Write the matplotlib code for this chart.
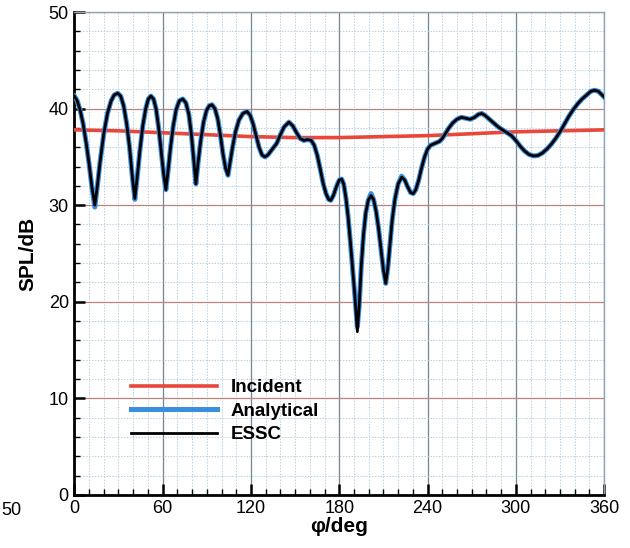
import numpy as np
import matplotlib.pyplot as plt
from matplotlib.ticker import MultipleLocator

plt.rcParams['font.family'] = ['Liberation Sans', 'DejaVu Sans']

# ESSC curve
phi_essc = [0, 2, 4, 6, 8, 10, 12, 13.9,
            15.5, 17.5, 20, 22.5, 25, 27, 29.4, 31.5, 33.5, 35.5, 37.5, 39.5, 41.1,
            42.5, 44.5, 46.5, 48.5, 50.3, 52, 53.8, 55.5, 57.3, 59, 60.7, 62.2,
            63.5, 65.3, 67.2, 69.2, 71.3, 73.6, 75.8, 77.8, 79.5, 81.2, 82.6,
            84, 85.8, 87.8, 89.8, 91.7, 93.5, 95.5, 97.5, 99.3, 101, 102.8, 104.4,
            105.8, 107.5, 109.5, 111.8, 114.5, 117.3, 119.5, 121.5, 123.5, 125.5, 127.5,
            129.5, 131.5, 134, 137.5, 140, 142.5, 145.8, 148.5, 151, 153.5, 156, 158.5,
            161, 163, 165, 167, 169, 171, 172.8, 174.2, 176, 178, 180, 181.6, 183,
            184.5, 186, 187.5, 189, 190.5, 192.3, 193.5, 195, 196.5, 198, 199.7, 201.6,
            203.3, 205, 206.7, 208.3, 210, 211.6, 213, 214.5, 216, 217.8, 220, 222.4,
            224.5, 226.5, 228.5, 230.3, 232, 234, 236, 238, 240, 242, 245, 248, 250,
            252, 254.5, 257, 260, 263, 266, 269, 272, 274.5, 276.8, 279, 282, 285, 288,
            291, 294, 297, 300, 303, 306, 309, 312, 315, 318, 321, 324, 327, 330, 333,
            336, 339, 342, 345, 348, 351, 353.5, 356, 358, 360]
spl_essc = [41.3, 40.8, 39.8, 38.4, 36.5, 34.3, 31.8, 30.0,
            31.8, 34.5, 37.4, 39.5, 40.8, 41.4, 41.6, 41.3, 40.3, 38.5, 36.0, 32.8, 30.7,
            32.6, 35.6, 38.2, 40.0, 41.0, 41.3, 41.0, 40.0, 38.0, 35.6, 33.2, 31.6,
            33.3, 35.9, 38.2, 39.9, 40.8, 41.0, 40.6, 39.4, 37.4, 34.5, 32.2,
            34.3, 36.6, 38.6, 39.8, 40.3, 40.4, 40.0, 38.9, 37.2, 35.3, 33.8, 33.1,
            34.4, 36.0, 37.6, 38.8, 39.5, 39.7, 39.3, 38.4, 37.2, 36.0, 35.2,
            35.0, 35.2, 35.7, 36.4, 37.3, 38.1, 38.6, 38.2, 37.5, 36.9, 36.7, 36.8,
            36.7, 36.2, 35.2, 33.8, 32.3, 31.2, 30.6, 30.5, 31.0, 31.9, 32.6, 32.7, 32.2,
            30.8, 28.8, 26.3, 23.6, 20.8, 16.9, 19.5, 23.8, 27.0, 29.2, 30.5, 31.0,
            30.6, 29.4, 27.6, 25.5, 23.3, 21.9, 23.5, 26.0, 28.5, 30.6, 32.2, 32.9,
            32.6, 31.9, 31.3, 31.2, 31.6, 32.6, 33.9, 35.0, 35.8, 36.2, 36.4, 36.6, 36.9,
            37.4, 38.0, 38.5, 38.9, 39.1, 39.0, 38.9, 39.1, 39.4, 39.5, 39.3, 38.9, 38.5, 38.1,
            37.8, 37.5, 37.2, 36.7, 36.1, 35.6, 35.25, 35.1, 35.15, 35.4, 35.8, 36.3, 36.9, 37.6, 38.4,
            39.2, 39.9, 40.5, 41.0, 41.4, 41.8, 41.9, 41.8, 41.5, 41.2]

# Analytical solution: same trace, slightly different depth at a few dips
phi_ana = phi_essc
spl_ana = list(spl_essc)
ana_dips = {13.9: 29.8, 41.1: 30.6, 192.3: 17.4, 201.6: 31.2, 222.4: 33.0}
for p, v in ana_dips.items():
    spl_ana[phi_ana.index(p)] = v

# Incident field
phi_inc = [0, 30, 60, 90, 120, 150, 180, 210, 240, 270, 300, 330, 360]
spl_inc = [37.8, 37.7, 37.5, 37.3, 37.1, 37.0, 37.0, 37.1, 37.2, 37.4, 37.6, 37.7, 37.8]

fig = plt.figure(figsize=(6.30, 5.48), dpi=100)
ax = fig.add_axes([0.118, 0.097, 0.841, 0.881])

ax.plot(phi_inc, spl_inc, color="#e8473a", lw=2.6, label="Incident", zorder=3)
ax.plot(phi_ana, spl_ana, color="#3a8ee0", lw=3.6, label="Analytical", zorder=4,
        solid_joinstyle="round")
ax.plot(phi_essc, spl_essc, color="black", lw=2.0, label="ESSC", zorder=5,
        solid_joinstyle="round")

ax.set_xlim(0, 360)
ax.set_ylim(0, 50)
ax.xaxis.set_major_locator(MultipleLocator(60))
ax.xaxis.set_minor_locator(MultipleLocator(10))
ax.yaxis.set_major_locator(MultipleLocator(10))
ax.yaxis.set_minor_locator(MultipleLocator(2))

# grid
ax.grid(which="minor", color="#b4d2e4", lw=0.7, ls=(0, (1.5, 1.5)), zorder=0)
ax.grid(which="major", axis="x", color="#6f8796", lw=0.9, zorder=1)
ax.grid(which="major", axis="y", color="#b8857a", lw=0.9, zorder=1)

ax.tick_params(which="both", direction="in", top=False, right=False,
               labelsize=13, pad=4)
ax.tick_params(which="major", length=8, width=1.8)
ax.tick_params(which="minor", length=4, width=1.0)

for side in ["left", "bottom"]:
    ax.spines[side].set_linewidth(2.0)
    ax.spines[side].set_color("black")
for side in ["top", "right"]:
    ax.spines[side].set_linewidth(1.0)
    ax.spines[side].set_color("#8aa6b8")

ax.set_xlabel("φ/deg", fontsize=15, fontweight="bold", labelpad=0)
ax.set_ylabel("SPL/dB", fontsize=15, fontweight="bold", labelpad=8)

leg = ax.legend(loc="upper left", bbox_to_anchor=(0.075, 0.275), frameon=False,
                handlelength=4.6, handletextpad=0.7, labelspacing=0.35,
                prop={"size": 13.5, "weight": "bold"})

# fragment of neighbouring panel's tick label
fig.text(0.002, 0.06, "50", fontsize=13)

fig.savefig("out.png", dpi=100)
